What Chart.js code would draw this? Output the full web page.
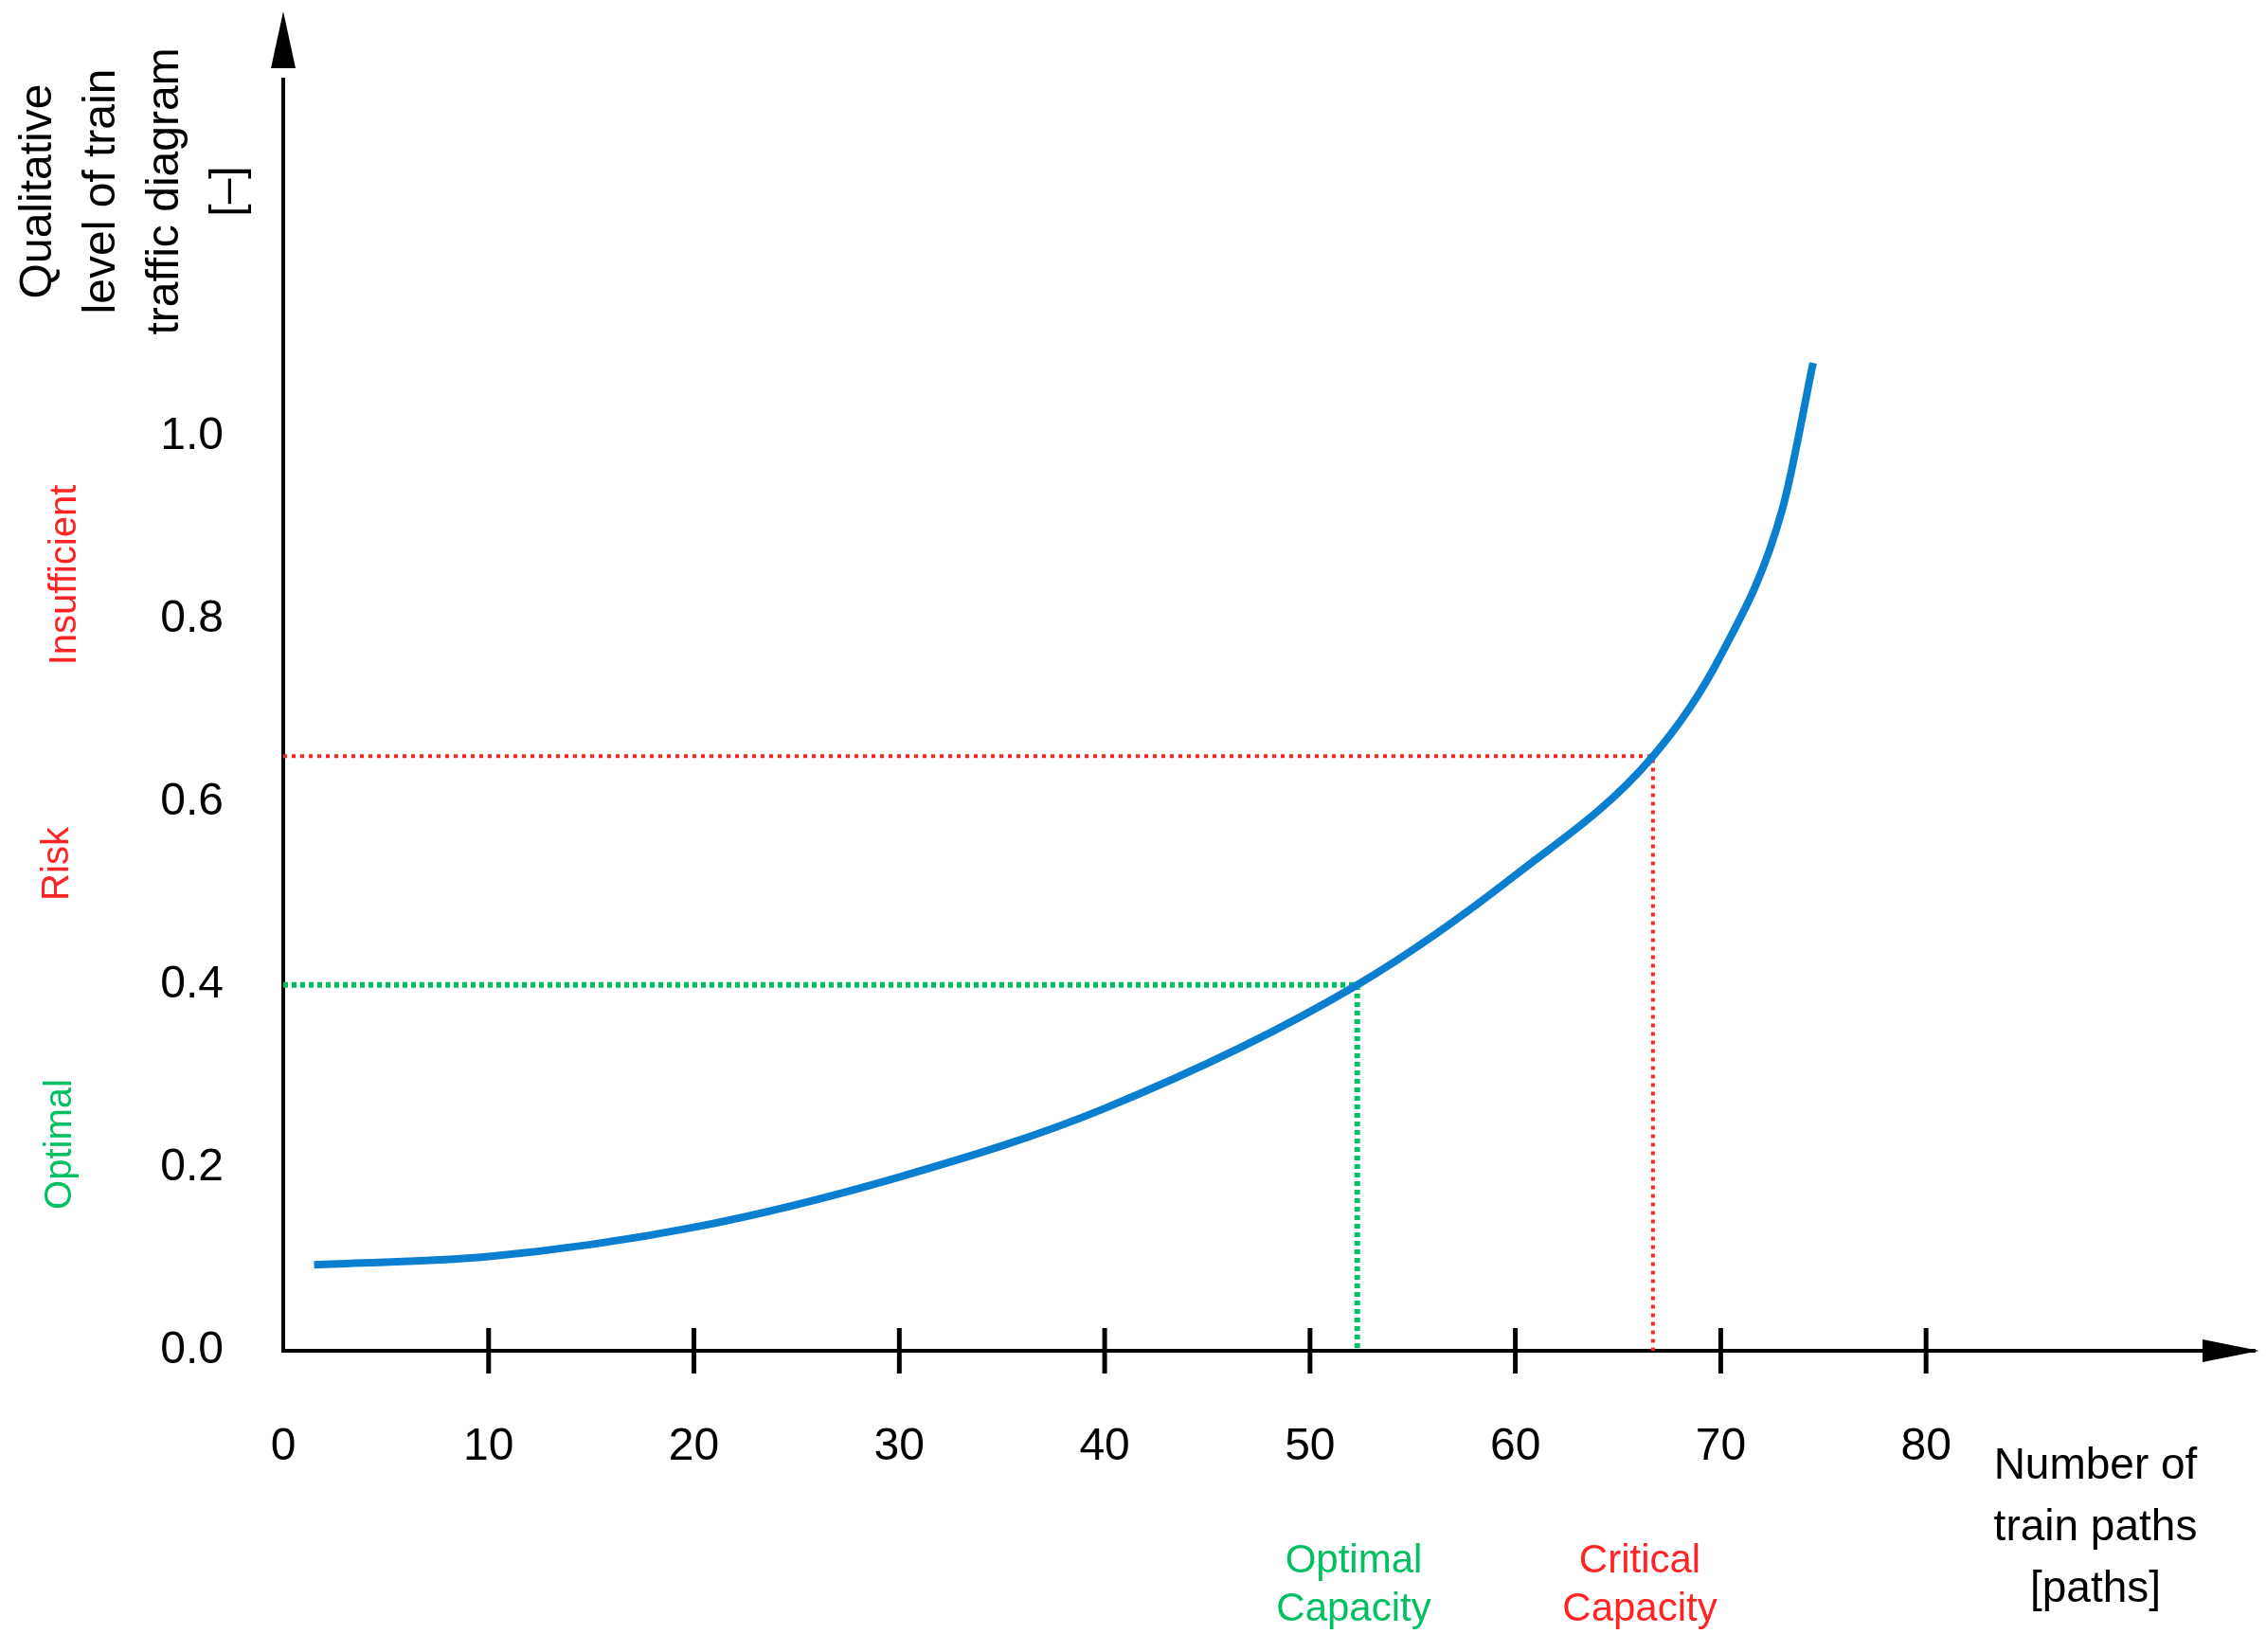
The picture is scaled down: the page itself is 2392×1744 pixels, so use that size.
<!DOCTYPE html>
<html>
<head>
<meta charset="utf-8">
<script src="https://cdn.jsdelivr.net/npm/chart.js@4"></script>
<style>body{margin:0;background:#fff}</style>
</head>
<body>
<canvas id="capacityChart" width="2392" height="1744"></canvas>
<script>
// Curve: number of train paths vs qualitative level
const paths = [1.5, 10, 20, 30, 40, 52.3, 60, 66.7, 70, 73, 74.5];
const level = [0.094, 0.103, 0.135, 0.19, 0.265, 0.4, 0.52, 0.65, 0.76, 0.92, 1.08];
const xTicks = [0, 10, 20, 30, 40, 50, 60, 70, 80];
const yTicks = [0, 0.2, 0.4, 0.6, 0.8, 1.0];
const optimal = { x: 52.3, y: 0.4 };
const critical = { x: 66.7, y: 0.65 };

const RED = '#ff2424';
const GREEN = '#00c060';
const FONT = '"Liberation Sans", Arial, sans-serif';

// Extra texts and axis arrows
const annotations = {
  id: 'annotations',
  afterDraw(chart) {
    const c = chart.ctx;
    const a = chart.chartArea;
    c.save();
    c.fillStyle = '#000';
    // arrow heads
    c.beginPath();
    c.moveTo(a.left, 12); c.lineTo(a.left - 13, 72); c.lineTo(a.left + 13, 72); c.closePath(); c.fill();
    c.beginPath();
    c.moveTo(2385, a.bottom); c.lineTo(2325, a.bottom - 12); c.lineTo(2325, a.bottom + 12); c.closePath(); c.fill();

    function rotated(lines, x0, y, step, color, size) {
      c.fillStyle = color;
      c.font = size + 'px ' + FONT;
      c.textAlign = 'center';
      c.textBaseline = 'middle';
      lines.forEach((t, i) => {
        c.save();
        c.translate(x0 + i * step, y);
        c.rotate(-Math.PI / 2);
        c.fillText(t, 0, 0);
        c.restore();
      });
    }
    function plain(lines, x, y0, step, color, size) {
      c.fillStyle = color;
      c.font = size + 'px ' + FONT;
      c.textAlign = 'center';
      c.textBaseline = 'middle';
      lines.forEach((t, i) => c.fillText(t, x, y0 + i * step));
    }
    rotated(['Qualitative', 'level of train', 'traffic diagram', '[–]'], 41, 202, 67, '#000', 48);
    rotated(['Insufficient'], 69, 607, 0, RED, 40);
    rotated(['Risk'], 61, 912, 0, RED, 40);
    rotated(['Optimal'], 64, 1208, 0, GREEN, 40);
    plain(['Number of', 'train paths', '[paths]'], 2212, 1548, 65, '#000', 46);
    plain(['Optimal', 'Capacity'], 1429, 1648, 51, GREEN, 42);
    plain(['Critical', 'Capacity'], 1731, 1648, 51, RED, 42);

    // tick marks crossing the x axis
    c.strokeStyle = '#000';
    c.lineWidth = 5;
    xTicks.slice(1).forEach(v => {
      const px = chart.scales.x.getPixelForValue(v);
      c.beginPath(); c.moveTo(px, a.bottom - 24); c.lineTo(px, a.bottom + 24); c.stroke();
    });
    c.restore();
  }
};

new Chart(document.getElementById('capacityChart'), {
  type: 'line',
  data: {
    datasets: [
      {
        data: paths.map((x, i) => ({ x, y: level[i] })),
        borderColor: '#0a7fd0', borderWidth: 8, pointRadius: 0,
        cubicInterpolationMode: 'monotone'
      },
      {
        data: [{ x: 0, y: critical.y }, { x: critical.x, y: critical.y }, { x: critical.x, y: 0 }],
        borderColor: RED, borderWidth: 4, borderDash: [4, 5], pointRadius: 0, tension: 0
      },
      {
        data: [{ x: 0, y: optimal.y }, { x: optimal.x, y: optimal.y }, { x: optimal.x, y: 0 }],
        borderColor: GREEN, borderWidth: 6, borderDash: [5, 4], pointRadius: 0, tension: 0
      }
    ]
  },
  options: {
    responsive: false,
    devicePixelRatio: 1,
    animation: false,
    layout: { padding: { top: 0, right: 12, left: 0, bottom: 0 } },
    plugins: { legend: { display: false }, tooltip: { enabled: false } },
    scales: {
      x: {
        type: 'linear', min: 0, max: 96,
        grid: { display: false },
        border: { color: '#000', width: 4 },
        afterBuildTicks: s => { s.ticks = xTicks.map(v => ({ value: v })); },
        afterFit: s => { s.height = 318; },
        ticks: { color: '#000', font: { size: 48, family: FONT }, padding: 65, maxRotation: 0 }
      },
      y: {
        type: 'linear', min: 0, max: 1.39,
        grid: { display: false },
        border: { color: '#000', width: 4 },
        afterBuildTicks: s => { s.ticks = yTicks.map(v => ({ value: v })); },
        afterFit: s => { s.width = 299; },
        ticks: { color: '#000', font: { size: 48, family: FONT }, padding: 55, callback: v => v.toFixed(1) }
      }
    }
  },
  plugins: [annotations]
});
</script>
</body>
</html>
